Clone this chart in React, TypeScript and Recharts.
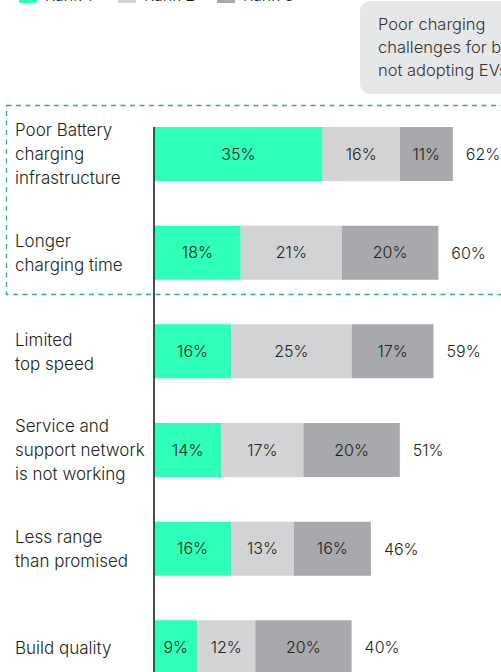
import React from "react";
import { BarChart, Bar, XAxis, YAxis, LabelList } from "recharts";

const categories = [
  "Poor Battery\ncharging\ninfrastructure",
  "Longer\ncharging time",
  "Limited\ntop speed",
  "Service and\nsupport network\nis not working",
  "Less range\nthan promised",
  "Build quality",
];
const rank1 = [35, 18, 16, 14, 16, 9];
const rank2 = [16, 21, 25, 17, 13, 12];
const rank3 = [11, 20, 17, 20, 16, 20];
const totals = [62, 60, 59, 51, 46, 40];
const seriesNames = ["Rank 1", "Rank 2", "Rank 3"];
const seriesColors = ["#2effb9", "#d1d3d4", "#a7a9ac"];
const calloutLines = ["Poor charging", "challenges for buyers", "not adopting EVs"];

const data = categories.map((c, i) => ({
  name: c,
  r1: rank1[i],
  r2: rank2[i],
  r3: rank3[i],
  total: totals[i],
}));

const FONT = "Inter, Lato, sans-serif";
const FW = 300;
const FS = 16;
const TEXT = "#231f20";

const CategoryTick = (props: any) => {
  const { y, payload } = props;
  const lines = String(payload.value).split("\n");
  const lh = 24;
  const start = -((lines.length - 1) * lh) / 2;
  return (
    <text x={15} y={y} fontFamily={FONT} fontSize={17} fontWeight={FW} fill={TEXT} textAnchor="start">
      {lines.map((l, i) => (
        <tspan key={i} x={15} y={y + start + i * lh} dominantBaseline="central">
          {l}
        </tspan>
      ))}
    </text>
  );
};

const TotalLabel = (props: any) => {
  const { x, y, width, height, index } = props;
  return (
    <text
      x={x + width + 13}
      y={y + height / 2}
      fontFamily={FONT}
      fontSize={FS}
      fontWeight={FW}
      fill={TEXT}
      dominantBaseline="central"
      textAnchor="start"
    >
      {totals[index]}%
    </text>
  );
};

const pct = (v: any) => `${v}%`;

export default function App() {
  return (
    <div
      style={{
        position: "absolute",
        top: 0,
        left: 0,
        width: 501,
        height: 672,
        overflow: "hidden",
        background: "#fff",
        fontFamily: FONT,
        fontWeight: FW,
      }}
    >
      <div style={{ position: "absolute", top: -15, left: 19, display: "flex", alignItems: "flex-end" }}>
        {seriesNames.map((n, i) => (
          <div key={n} style={{ display: "flex", alignItems: "flex-end", width: 99 }}>
            <div style={{ width: 18, height: 18, background: seriesColors[i] }} />
            <span style={{ marginLeft: 8, fontSize: FS, color: TEXT, lineHeight: "16px" }}>{n}</span>
          </div>
        ))}
      </div>
      <div
        style={{
          position: "absolute",
          left: 360,
          top: 1,
          width: 200,
          height: 93,
          background: "#e6e7e8",
          borderRadius: 10,
          boxSizing: "border-box",
          padding: "12px 0 0 18px",
          fontSize: 16.5,
          lineHeight: "23px",
          color: "#333",
          whiteSpace: "nowrap",
        }}
      >
        {calloutLines.map((l) => (
          <div key={l}>{l}</div>
        ))}
      </div>
      <svg style={{ position: "absolute", left: 0, top: 0 }} width={501} height={672}>
        <rect
          x={6.5}
          y={105.5}
          width={600}
          height={189}
          fill="none"
          stroke="#2db56e"
          strokeWidth={1.3}
          strokeDasharray="5 4.5"
        />
      </svg>
      <div style={{ position: "absolute", left: 0, top: 0 }}>
        <BarChart
          width={501}
          height={700}
          data={data}
          layout="vertical"
          margin={{ top: 127, right: 0, bottom: 3, left: 0 }}
          barSize={54}
        >
          <XAxis type="number" domain={[0, 72]} hide />
          <YAxis
            type="category"
            dataKey="name"
            width={154}
            padding={{ top: -22, bottom: 0 }}
            tick={<CategoryTick />}
            tickLine={false}
            axisLine={{ stroke: "#3a3a3a", strokeWidth: 1.8 }}
            interval={0}
          />
          <Bar dataKey="r1" stackId="a" fill={seriesColors[0]} isAnimationActive={false}>
            <LabelList dataKey="r1" position="center" formatter={pct} fill={TEXT} fontSize={FS} fontWeight={FW} fontFamily={FONT} />
          </Bar>
          <Bar dataKey="r2" stackId="a" fill={seriesColors[1]} isAnimationActive={false}>
            <LabelList dataKey="r2" position="center" formatter={pct} fill={TEXT} fontSize={FS} fontWeight={FW} fontFamily={FONT} />
          </Bar>
          <Bar dataKey="r3" stackId="a" fill={seriesColors[2]} isAnimationActive={false}>
            <LabelList dataKey="r3" position="center" formatter={pct} fill={TEXT} fontSize={FS} fontWeight={FW} fontFamily={FONT} />
            <LabelList dataKey="total" content={<TotalLabel />} />
          </Bar>
        </BarChart>
      </div>
    </div>
  );
}
